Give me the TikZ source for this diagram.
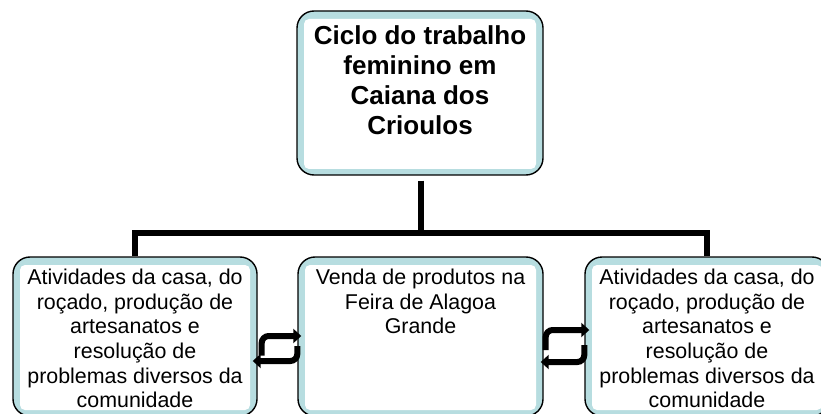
\documentclass[tikz,border=0pt]{standalone}
\usepackage{fontspec}
\setmainfont{Liberation Sans}
\usetikzlibrary{arrows.meta,calc}
\definecolor{bandblue}{RGB}{183,221,224}
\begin{document}
\begin{tikzpicture}[x=1pt,y=-1pt,
  box/.style={draw=black, line width=1.4pt, fill=bandblue, rounded corners=17pt, inner sep=0pt,
    path picture={\fill[white, rounded corners=5pt]
      ([shift={(7pt,-8pt)}]path picture bounding box.north west) rectangle
      ([shift={(-7pt,6pt)}]path picture bounding box.south east);}},
  toptxt/.style={font=\fontsize{26}{30}\selectfont\bfseries, align=center, inner sep=0pt, anchor=north},
  bottxt/.style={font=\fontsize{21.4}{24.6}\selectfont, align=center, inner sep=0pt, anchor=north},
  conn/.style={line width=6pt, draw=black},
  cyc/.style={line width=6pt, draw=black, rounded corners=7pt, -{Triangle[length=8pt,width=14pt]}}
]
\useasboundingbox (0,0) rectangle (821,414);
\fill[white] (0,0) rectangle (821,414);

\node[box, minimum width=246pt, minimum height=164pt] (T) at (420,93) {};
\node[box, minimum width=244pt, minimum height=159pt] (L) at (135,336.5) {};
\node[box, minimum width=245pt, minimum height=159pt] (M) at (420.5,336.5) {};
\node[box, minimum width=244pt, minimum height=159pt] (R) at (707,336.5) {};

\node[toptxt] (Tt) at ($(T.north)+(0,15.5)$) {Ciclo do trabalho\\feminino em\\Caiana dos\\Crioulos};
\node[bottxt] (Lt) at ($(L.north)+(0,12.7)$) {Atividades da casa, do\\roçado, produção de\\artesanatos e\\resolução de\\problemas diversos da\\comunidade};
\node[bottxt] (Mt) at ($(M.north)+(0,12.7)$) {Venda de produtos na\\Feira de Alagoa\\Grande};
\node[bottxt] (Rt) at ($(R.north)+(0,12.7)$) {Atividades da casa, do\\roçado, produção de\\artesanatos e\\resolução de\\problemas diversos da\\comunidade};

\coordinate (J) at ($(T.south)+(0.5,57)$);
\draw[conn] ($(T.south)+(0.5,5)$) -- (J);
\draw[conn] (L.north) |- (J);
\draw[conn] (R.north) |- (J);

\draw[cyc] ($(L.east)+(4,19)$) |- ($(M.west)+(4,-0.5)$);
\draw[cyc] ($(M.west)+(0,9.5)$) |- ($(L.east)+(-5,24.5)$);
\draw[cyc] ($(M.east)+(2,13.5)$) |- ($(R.west)+(5,-6.5)$);
\draw[cyc] ($(R.west)+(0,8.5)$) |- ($(M.east)+(-3,25.5)$);
\end{tikzpicture}
\end{document}
